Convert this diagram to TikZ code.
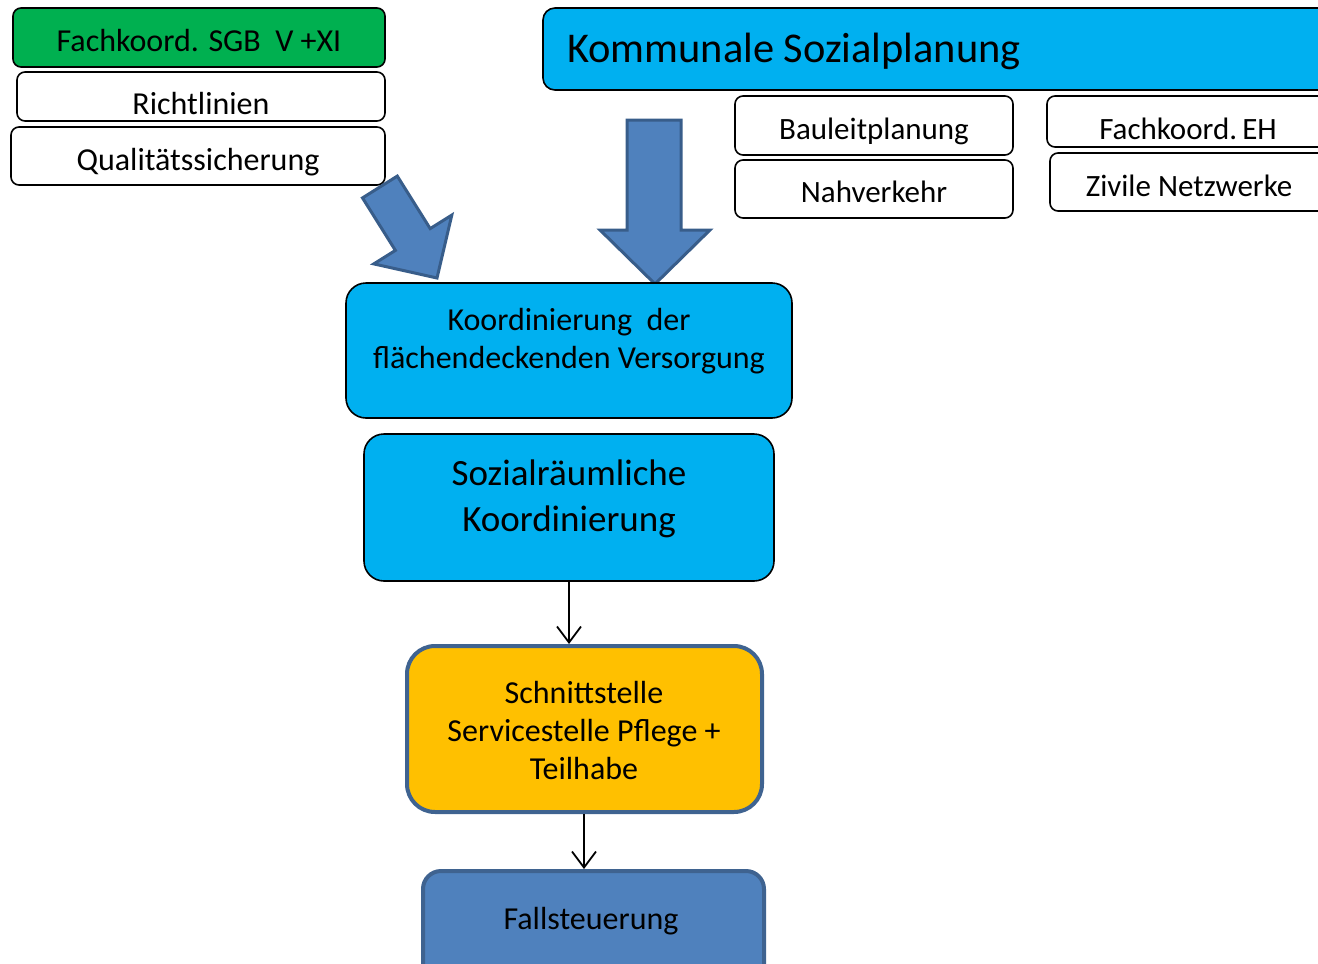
\documentclass[tikz,border=0pt]{standalone}
\usepackage{fontspec}
\setmainfont{Carlito}
\usetikzlibrary{arrows.meta}
\definecolor{cgreen}{HTML}{00B050}
\definecolor{cblue}{HTML}{00B0F0}
\definecolor{corange}{HTML}{FFC000}
\definecolor{csteel}{HTML}{4F81BD}
\definecolor{cdark}{HTML}{385D8A}
\definecolor{cborder}{HTML}{3F6390}
\begin{document}
\begin{tikzpicture}[x=1pt,y=-1pt,
  smallbox/.style={draw=black,line width=1.6pt,rounded corners=8pt,fill=white},
  bigbox/.style={draw=black,line width=1.6pt,rounded corners=20pt,fill=cblue},
  txt/.style={font=\fontsize{32}{38}\selectfont,align=center,inner sep=0pt,text height=0.7em,text depth=0.2em},
  txtr/.style={font=\fontsize{31}{37}\selectfont,align=center,inner sep=0pt,text height=0.7em,text depth=0.2em},
  mtxt/.style={font=\fontsize{32}{38}\selectfont,align=center,inner sep=0pt},
  blockarrow/.style={fill=csteel,draw=cdark,line width=3pt,line join=miter},
  conn/.style={draw=black,line width=1.8pt,-{Straight Barb[length=16pt,width=24pt,line width=1.8pt]}}]
\useasboundingbox (0,0) rectangle (1318,964);
\clip (0,0) rectangle (1318,964);
% left column
\draw[smallbox,fill=cgreen] (13,8) rectangle (385,67);
\node[txt] (fk) at (199,49) {Fachkoord. SGB\ \ V +XI};
\draw[smallbox] (17,72) rectangle (385,121);
\node[txt] (rl) at (201,112) {Richtlinien};
\draw[smallbox] (11,127) rectangle (385,185);
\node[txt] (qs) at (198,168) {Qualitätssicherung};
% Kommunale Sozialplanung
\draw[smallbox,fill=cblue,rounded corners=12pt] (543,8) rectangle (1340,90);
\node[font=\fontsize{42.4}{48}\selectfont,anchor=base west,inner sep=0pt] (ks) at (567,62) {Kommunale Sozialplanung};
\draw[smallbox] (735,96) rectangle (1013,155);
\node[txtr] (bl) at (874,137) {Bauleitplanung};
\draw[smallbox] (735,160) rectangle (1013,218);
\node[txtr] (nv) at (874,200) {Nahverkehr};
\draw[smallbox] (1047,96) rectangle (1340,147);
\node[txtr] (eh) at (1188,137) {Fachkoord.\,EH};
\draw[smallbox] (1050,153) rectangle (1340,211);
\node[txtr] (zn) at (1189,194) {Zivile Netzwerke};
% block arrows
\draw[blockarrow] (362.5,197.9) -- (397.3,176.1) -- (430.2,228.6) -- (451.8,215.1) -- (437,278) -- (373.8,263.9) -- (395.4,250.4) -- cycle;
\draw[blockarrow] (627,120) -- (681,120) -- (681,230) -- (710,230) -- (655,284) -- (600,230) -- (627,230) -- cycle;
% center column
\node[bigbox,minimum width=446pt,minimum height=135pt] (kv) at (569,350.5) {};
\node[mtxt] (kvt) at (569,341) {Koordinierung\ \ der\\flächendeckenden Versorgung};
\node[bigbox,minimum width=410pt,minimum height=147pt] (sk) at (569,507.5) {};
\node[mtxt,font=\fontsize{37}{46}\selectfont] (skt) at (569,499) {Sozialräumliche\\Koordinierung};
\node[draw=cborder,line width=4pt,rounded corners=28pt,fill=corange,minimum width=355pt,minimum height=166pt] (ss) at (584.5,729) {};
\node[mtxt] (sst) at (584,730) {Schnittstelle\\Servicestelle Pflege +\\Teilhabe};
\node[draw=cborder,line width=4pt,rounded corners=18pt,fill=csteel,minimum width=341pt,minimum height=130pt,anchor=north west] (fs) at (421,869) {};
\node[txt] (fst) at (591,927) {Fallsteuerung};
\draw[conn] (sk.south -| 569,0) -- (ss.north -| 569,0);
\draw[conn] (ss.south -| 584,0) -- (fs.north -| 584,0);
\end{tikzpicture}
\end{document}
